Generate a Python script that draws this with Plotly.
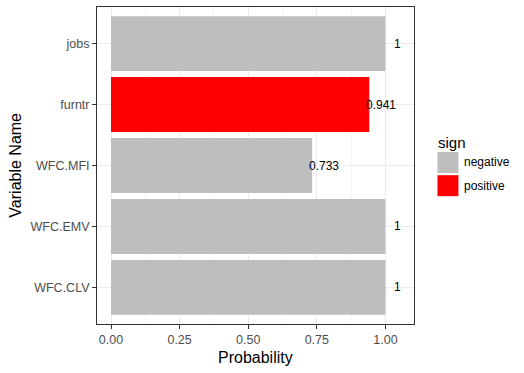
import plotly.graph_objects as go

# data (bottom to top, as drawn)
variables = ["WFC.CLV", "WFC.EMV", "WFC.MFI", "furntr", "jobs"]
probability = [1, 1, 0.733, 0.941, 1]
sign = ["negative", "negative", "negative", "positive", "negative"]
sign_levels = ["negative", "positive"]
x_ticks = [0, 0.25, 0.5, 0.75, 1.0]
x_tick_labels = ["0.00", "0.25", "0.50", "0.75", "1.00"]

colors = {"negative": "#BEBEBE", "positive": "#FF0000"}
FONT = "Liberation Sans, Arial, sans-serif"

W, H = 524, 373
L, R, T, B = 97, 414.5, 7, 324   # panel edges in px


def px_x(x):
    return (x - L) / (R - L)


def px_y(y):
    return (B - y) / (B - T)


fig = go.Figure()
fig.add_trace(go.Bar(
    x=probability, y=variables, orientation="h", width=0.9,
    marker=dict(color=[colors[s] for s in sign], line=dict(width=0)),
    showlegend=False, hoverinfo="x+y",
))

annotations = []
for v, p in zip(variables, probability):
    annotations.append(dict(
        x=p, y=v, xref="x", yref="y", text=f"{p:g}", showarrow=False,
        xanchor="center", yanchor="middle", xshift=12,
        font=dict(family=FONT, size=12, color="#000000"),
    ))

# axis titles
annotations.append(dict(
    x=0.5, y=px_y(357), xref="paper", yref="paper", text="Probability",
    showarrow=False, xanchor="center", yanchor="middle",
    font=dict(family=FONT, size=16, color="#000000"),
))
annotations.append(dict(
    x=px_x(15), y=0.5, xref="paper", yref="paper", text="Variable Name",
    showarrow=False, xanchor="center", yanchor="middle", textangle=-90,
    font=dict(family=FONT, size=16, color="#000000"),
))

# legend drawn ggplot-style
annotations.append(dict(
    x=px_x(437), y=px_y(142.7), xref="paper", yref="paper", text="sign",
    showarrow=False, xanchor="left", yanchor="middle",
    font=dict(family=FONT, size=15, color="#000000"),
))
shapes = []
for i, lvl in enumerate(sign_levels):
    top = 152 + i * 23.2
    shapes.append(dict(
        type="rect", xref="paper", yref="paper",
        x0=px_x(438), x1=px_x(459), y0=px_y(top), y1=px_y(top + 21),
        fillcolor=colors[lvl], line=dict(width=0),
    ))
    annotations.append(dict(
        x=px_x(463), y=px_y(top + 10.5), xref="paper", yref="paper", text=lvl,
        showarrow=False, xanchor="left", yanchor="middle",
        font=dict(family=FONT, size=12, color="#000000"),
    ))

fig.update_layout(
    width=W, height=H,
    margin=dict(l=L, r=W - R, t=T, b=H - B, pad=0),
    plot_bgcolor="white", paper_bgcolor="white",
    font=dict(family=FONT, size=12, color="#4D4D4D"),
    annotations=annotations, shapes=shapes,
    showlegend=False,
)
fig.update_xaxes(
    range=[-0.051, 1.104], tickvals=x_ticks, ticktext=x_tick_labels,
    showgrid=True, gridcolor="#EBEBEB", gridwidth=1,
    minor=dict(tickvals=[0.125, 0.375, 0.625, 0.875], showgrid=True,
               gridcolor="#F5F5F5", gridwidth=0.6, ticks=""),
    showline=True, linecolor="#333333", linewidth=1, mirror=True,
    ticks="outside", ticklen=4, tickcolor="#333333",
    tickfont=dict(family=FONT, size=12.5, color="#4D4D4D"),
    zeroline=False, automargin=False,
)
fig.update_yaxes(
    type="category", categoryorder="array", categoryarray=variables,
    range=[-0.6, 4.6],
    showgrid=True, gridcolor="#EBEBEB", gridwidth=1,
    showline=True, linecolor="#333333", linewidth=1, mirror=True,
    ticks="outside", ticklen=4, tickcolor="#333333",
    tickfont=dict(family=FONT, size=12.5, color="#4D4D4D"),
    zeroline=False, automargin=False,
)

# drop the browser's default 8px body margin so the chart sits at (0, 0)
fig.write_html("out.html", config={"displayModeBar": False},
               post_script="document.body.style.margin = '0';")
